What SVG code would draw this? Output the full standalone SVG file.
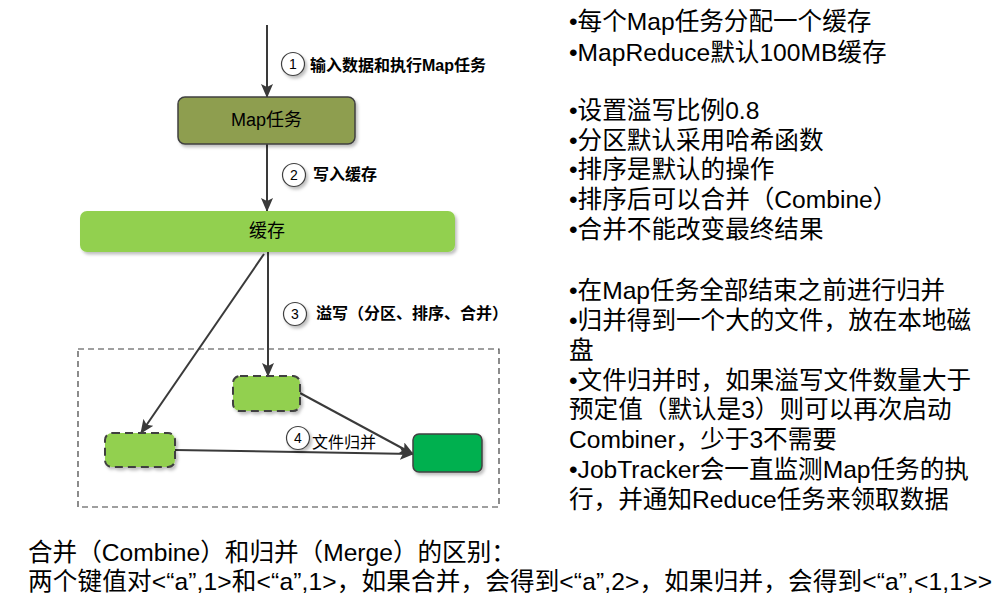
<svg xmlns="http://www.w3.org/2000/svg" width="1007" height="599" viewBox="0 0 1007 599">
<style>
text{font-family:"Liberation Sans","Noto Sans CJK SC",sans-serif;fill:#000}
.lbl{font-size:16px;font-weight:700}
.lblr{font-size:16px}
.num{font-size:14px;text-anchor:middle}
.side{font-size:24.6px}
.bot{font-size:24.6px}
.node{font-size:18px;text-anchor:middle}
.conn{stroke:#3a3a3a;stroke-width:2;fill:none;marker-end:url(#ah)}
.circ{fill:#fff;stroke:#404040;stroke-width:1.2;filter:url(#sh)}
.spill{fill:#92D050;stroke:#404040;stroke-width:2;stroke-dasharray:8 5;filter:url(#sh)}
</style>
<defs>
<marker id="ah" viewBox="0 0 14 12" refX="13" refY="6" markerWidth="14" markerHeight="12" markerUnits="userSpaceOnUse" orient="auto">
<path d="M0,0 L14,6 L0,12 L3,6 Z" fill="#3a3a3a"/>
</marker>
<filter id="sh" x="-10%" y="-20%" width="130%" height="150%">
<feDropShadow dx="2" dy="2.5" stdDeviation="1.5" flood-color="#000" flood-opacity="0.25"/>
</filter>
</defs>
<rect width="1007" height="599" fill="#fff"/>

<g id="container">
<rect x="78" y="349" width="421" height="158" fill="none" stroke="#404040" stroke-width="1.2" stroke-dasharray="6 4"/>
</g>

<g id="connectors">
<line class="conn" x1="267" y1="25" x2="267" y2="97"/>
<line class="conn" x1="267" y1="144" x2="267" y2="211"/>
<line class="conn" x1="268" y1="252" x2="268" y2="376"/>
<line class="conn" x1="264" y1="254" x2="141" y2="433"/>
<line class="conn" x1="300" y1="393" x2="413" y2="454"/>
<line class="conn" x1="175" y1="450" x2="413" y2="454"/>
<g id="step1"><circle class="circ" cx="293" cy="64" r="11.5"/><text class="num" x="293" y="69">1</text><text class="lbl" x="310" y="71">输入数据和执行Map任务</text></g>
<g id="step2"><circle class="circ" cx="294" cy="175" r="11.5"/><text class="num" x="294" y="180">2</text><text class="lbl" x="313" y="180">写入缓存</text></g>
<g id="step3"><circle class="circ" cx="295" cy="314" r="11.5"/><text class="num" x="295" y="319">3</text><text class="lbl" x="316" y="319">溢写（分区、排序、合并）</text></g>
<g id="step4"><circle class="circ" cx="298" cy="438" r="11.5"/><text class="num" x="298" y="443">4</text><text class="lblr" x="312" y="448">文件归并</text></g>
</g>

<g id="map-task">
<rect x="178" y="97" width="177" height="47" rx="7" fill="#8E9E4F" stroke="#404040" stroke-width="1.5" filter="url(#sh)"/>
<text class="node" x="266.5" y="126">Map任务</text>
</g>
<g id="buffer">
<rect x="80" y="211" width="375" height="41" rx="7" fill="#92D050" filter="url(#sh)"/>
<text class="node" x="267" y="237">缓存</text>
</g>
<g id="spill1"><rect class="spill" x="233" y="376" width="67" height="35" rx="7"/></g>
<g id="spill2"><rect class="spill" x="105" y="433" width="70" height="34" rx="7"/></g>
<g id="merged"><rect x="413" y="434" width="69" height="38" rx="6" fill="#00B050" stroke="#404040" stroke-width="1.5" filter="url(#sh)"/></g>

<g id="notes">
<text class="side" x="569" y="30">•每个Map任务分配一个缓存</text>
<text class="side" x="569" y="60.5">•MapReduce默认100MB缓存</text>
<text class="side" x="569" y="119">•设置溢写比例0.8</text>
<text class="side" x="569" y="148.7">•分区默认采用哈希函数</text>
<text class="side" x="569" y="178.4">•排序是默认的操作</text>
<text class="side" x="569" y="208">•排序后可以合并（Combine）</text>
<text class="side" x="569" y="237.8">•合并不能改变最终结果</text>
<text class="side" x="569" y="299">•在Map任务全部结束之前进行归并</text>
<text class="side" x="569" y="329">•归并得到一个大的文件，放在本地磁</text>
<text class="side" x="569" y="359">盘</text>
<text class="side" x="569" y="389">•文件归并时，如果溢写文件数量大于</text>
<text class="side" x="569" y="418">预定值（默认是3）则可以再次启动</text>
<text class="side" x="569" y="448">Combiner，少于3不需要</text>
<text class="side" x="569" y="478">•JobTracker会一直监测Map任务的执</text>
<text class="side" x="569" y="508">行，并通知Reduce任务来领取数据</text>
</g>

<g id="footer">
<text class="bot" x="28" y="561">合并（Combine）和归并（Merge）的区别：</text>
<text class="bot" x="28" y="590" textLength="964" lengthAdjust="spacing">两个键值对&lt;“a”,1&gt;和&lt;“a”,1&gt;，如果合并，会得到&lt;“a”,2&gt;，如果归并，会得到&lt;“a”,&lt;1,1&gt;&gt;</text>
</g>
</svg>
